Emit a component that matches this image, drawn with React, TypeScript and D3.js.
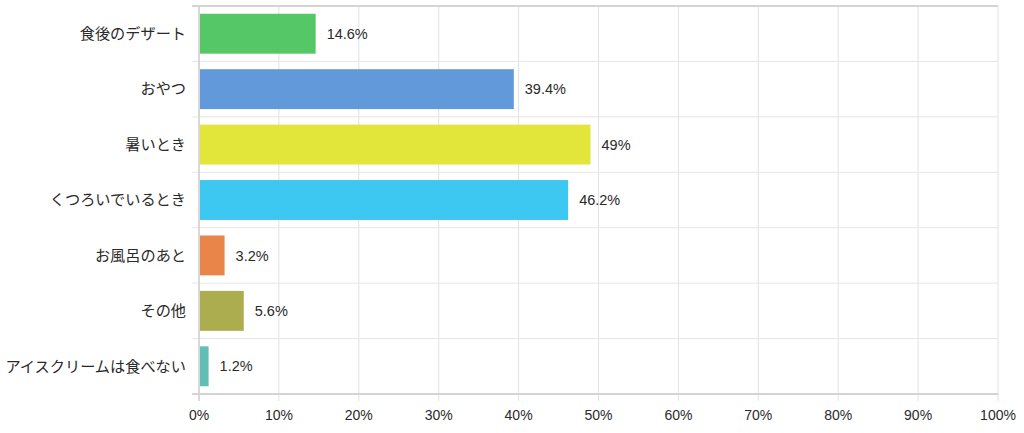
import * as d3 from 'd3'

const categories = ['食後のデザート', 'おやつ', '暑いとき', 'くつろいでいるとき', 'お風呂のあと', 'その他', 'アイスクリームは食べない']
const values = [14.6, 39.4, 49, 46.2, 3.2, 5.6, 1.2]
const colors = ['#4cc45f', '#5a93d8', '#e0e52f', '#33c5f1', '#e97e40', '#a6a945', '#59bbb0']
const xTicks = [0, 10, 20, 30, 40, 50, 60, 70, 80, 90, 100]

const W = 1024
const H = 433
const margin = { top: 6, right: 26, bottom: 39, left: 199 }

const FONT = '"Liberation Sans", Arial, "Noto Sans CJK JP", sans-serif'

export default function App() {
  const x = d3.scaleLinear().domain([0, 100]).range([margin.left, W - margin.right])
  const band = d3.scaleBand<string>().domain(categories).range([margin.top, H - margin.bottom])
  const bw = band.bandwidth()
  const barH = bw * 0.72
  const bounds = d3.range(categories.length + 1).map((i) => margin.top + i * bw)

  return (
    <svg
      width={W}
      height={H}
      style={{ position: 'absolute', left: 0, top: 0, background: '#fff' }}
      fontFamily={FONT}
    >
      {/* vertical grid */}
      {xTicks.map((t) => (
        <line
          key={'v' + t}
          x1={x(t)}
          x2={x(t)}
          y1={margin.top}
          y2={H - margin.bottom + 7}
          stroke="#e2e2e2"
          strokeWidth={1}
        />
      ))}
      {/* horizontal grid */}
      {bounds.map((y, i) => (
        <line
          key={'h' + i}
          x1={margin.left - 7}
          x2={W - margin.right}
          y1={y}
          y2={y}
          stroke={i === 0 || i === bounds.length - 1 ? '#d4d4d4' : '#e6e6e6'}
          strokeWidth={i === 0 || i === bounds.length - 1 ? 2 : 1}
        />
      ))}
      <line x1={margin.left} x2={margin.left} y1={margin.top} y2={H - margin.bottom + 7} stroke="#d0d0d0" strokeWidth={1.5} />

      {/* bars */}
      {categories.map((c, i) => {
        const y = (band(c) ?? 0) + (bw - barH) / 2
        return (
          <g key={c}>
            <rect x={x(0) + 1} y={y} width={x(values[i]) - x(0) - 1} height={barH} fill={colors[i]} opacity={0.95} />
            <text
              x={x(values[i]) + 11}
              y={y + barH / 2}
              dy="0.35em"
              fontSize={14.5}
              fill="#2a2a2a"
            >
              {values[i] + '%'}
            </text>
          </g>
        )
      })}

      {/* category labels */}
      {categories.map((c) => (
        <text
          key={'l' + c}
          x={margin.left - 13}
          y={(band(c) ?? 0) + bw / 2}
          dy="0.35em"
          textAnchor="end"
          fontSize={15.2}
          fill="#2a2a2a"
        >
          {c}
        </text>
      ))}

      {/* x tick labels */}
      {xTicks.map((t) => (
        <text key={'t' + t} x={x(t)} y={H - margin.bottom + 21} dy="0.35em" textAnchor="middle" fontSize={14} fill="#2a2a2a">
          {t + '%'}
        </text>
      ))}
    </svg>
  )
}
